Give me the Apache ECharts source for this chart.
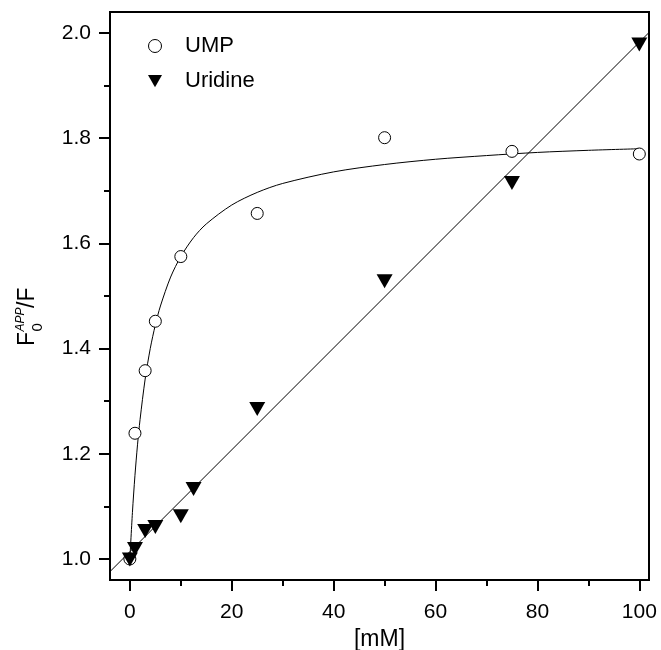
<!DOCTYPE html>
<html>
<head>
<meta charset="utf-8">
<script src="https://cdn.jsdelivr.net/npm/echarts@6/dist/echarts.min.js"></script>
<style>
html,body{margin:0;padding:0;background:#fff;}
#c{width:661px;height:650px;}
</style>
</head>
<body>
<div id="c"></div>
<script>
// ---- data ----
const umpX = [0, 1, 3, 5, 10, 25, 50, 75, 100];
const umpY = [1.000, 1.239, 1.358, 1.452, 1.575, 1.657, 1.801, 1.775, 1.770];

const uridineX = [0, 1, 3, 5, 10, 12.5, 25, 50, 75, 100];
const uridineY = [0.999, 1.019, 1.053, 1.061, 1.081, 1.133, 1.285, 1.528, 1.715, 1.978];

// fitted curves
const umpFitX = [0, 0.5, 1, 1.5, 2, 3, 4, 5, 6, 8, 10, 12.5, 15, 20, 25, 30, 40, 50, 60, 70, 80, 90, 100];
const umpFitY = [1.000, 1.088, 1.159, 1.217, 1.265, 1.342, 1.400, 1.445, 1.481, 1.536, 1.575, 1.611, 1.637, 1.673, 1.697, 1.714, 1.736, 1.750, 1.760, 1.767, 1.773, 1.777, 1.780];

const uridineFitX = [-3.9, 101.9];
const uridineFitY = [0.976, 2.001];

const xMajorTicks = [0, 20, 40, 60, 80, 100];
const xMinorTicks = [10, 30, 50, 70, 90];
const yMajorTicks = [1.0, 1.2, 1.4, 1.6, 1.8, 2.0];
const yMinorTicks = [1.1, 1.3, 1.5, 1.7, 1.9];

const xTitle = '[mM]';
const seriesNames = ['UMP', 'Uridine'];

// ---- chart ----
const FONT = '"Liberation Sans", Arial, sans-serif';
const zip = (a, b) => a.map((v, i) => [v, b[i]]);
const chart = echarts.init(document.getElementById('c'), null, {renderer: 'canvas'});

const option = {
  animation: false,
  backgroundColor: '#fff',
  grid: {left: 110, right: 12, top: 12, bottom: 70, show: true, borderColor: '#000', borderWidth: 2, backgroundColor: 'transparent', containLabel: false, outerBoundsMode: 'none'},
  legend: {
    data: [
      {name: seriesNames[0], icon: 'circle', itemStyle: {color: '#fff', borderColor: '#000', borderWidth: 1}},
      {name: seriesNames[1], icon: 'path://M0,0 L16,0 L8,14 Z', itemStyle: {color: '#000'}},
    ],
    orient: 'vertical',
    left: 143,
    top: 30,
    itemWidth: 14,
    itemHeight: 13,
    itemGap: 13,
    textStyle: {fontFamily: FONT, fontSize: 22, color: '#000', padding: [0, 0, 0, 18]},
  },
  xAxis: [
    {
      type: 'value', min: -3.9, max: 101.9, position: 'bottom', splitLine: {show: false},
      axisLine: {show: true, onZero: false, lineStyle: {color: '#000', width: 2}},
      axisTick: {show: true, inside: false, length: 11, lineStyle: {color: '#000', width: 2}, customValues: xMajorTicks},
      axisLabel: {customValues: xMajorTicks, fontFamily: FONT, fontSize: 21, color: '#000', margin: 22, formatter: v => String(Math.round(v))},
      name: xTitle, nameLocation: 'middle', nameGap: 47,
      nameTextStyle: {fontFamily: FONT, fontSize: 23, color: '#000'},
    },
    {
      type: 'value', min: -3.9, max: 101.9, position: 'bottom', splitLine: {show: false},
      axisLine: {show: false, onZero: false},
      axisTick: {show: true, inside: false, length: 6, lineStyle: {color: '#000', width: 2}, customValues: xMinorTicks},
      axisLabel: {show: false, customValues: xMinorTicks},
    },
  ],
  yAxis: [
    {
      type: 'value', min: 0.96, max: 2.04, position: 'left', splitLine: {show: false},
      axisLine: {show: true, onZero: false, lineStyle: {color: '#000', width: 2}},
      axisTick: {show: true, inside: false, length: 11, lineStyle: {color: '#000', width: 2}, customValues: yMajorTicks},
      axisLabel: {customValues: yMajorTicks, fontFamily: FONT, fontSize: 21, color: '#000', margin: 19, formatter: v => v.toFixed(1)},
    },
    {
      type: 'value', min: 0.96, max: 2.04, position: 'left', splitLine: {show: false},
      axisLine: {show: false, onZero: false},
      axisTick: {show: true, inside: false, length: 6, lineStyle: {color: '#000', width: 2}, customValues: yMinorTicks},
      axisLabel: {show: false, customValues: yMinorTicks},
    },
  ],
  graphic: [{
    type: 'group',
    x: 39, y: 346,
    rotation: Math.PI / 2,
    children: [
      {type: 'text', x: 0, y: 0, style: {text: 'F', font: '23px ' + FONT, fill: '#000', verticalAlign: 'bottom', align: 'left'}},
      {type: 'text', x: 14.5, y: 6, style: {text: '0', font: '15px ' + FONT, fill: '#000', verticalAlign: 'bottom', align: 'left'}},
      {type: 'text', x: 14.5, y: -12, style: {text: 'APP', font: 'italic 12px ' + FONT, fill: '#000', verticalAlign: 'bottom', align: 'left'}},
      {type: 'text', x: 38, y: 0, style: {text: '/F', font: '23px ' + FONT, fill: '#000', verticalAlign: 'bottom', align: 'left'}},
    ],
  }],
  series: [
    {
      name: 'UMP fit', type: 'line', xAxisIndex: 0, yAxisIndex: 0,
      data: zip(umpFitX, umpFitY), smooth: 0.3, showSymbol: false, silent: true,
      lineStyle: {color: '#000', width: 1}, z: 2, clip: true,
    },
    {
      name: 'Uridine fit', type: 'line', xAxisIndex: 0, yAxisIndex: 0,
      data: zip(uridineFitX, uridineFitY), showSymbol: false, silent: true,
      lineStyle: {color: '#000', width: 1}, z: 2, clip: true,
    },
    {
      name: seriesNames[0], type: 'scatter', xAxisIndex: 0, yAxisIndex: 0,
      data: zip(umpX, umpY), symbol: 'circle', symbolSize: 12,
      itemStyle: {color: '#fff', borderColor: '#000', borderWidth: 1, opacity: 1}, z: 3,
    },
    {
      name: seriesNames[1], type: 'scatter', xAxisIndex: 0, yAxisIndex: 0,
      data: zip(uridineX, uridineY), symbol: 'triangle', symbolRotate: 180, symbolSize: [16, 14],
      itemStyle: {color: '#000', opacity: 1}, z: 4,
    },
  ],
};
chart.setOption(option);
</script>
</body>
</html>
